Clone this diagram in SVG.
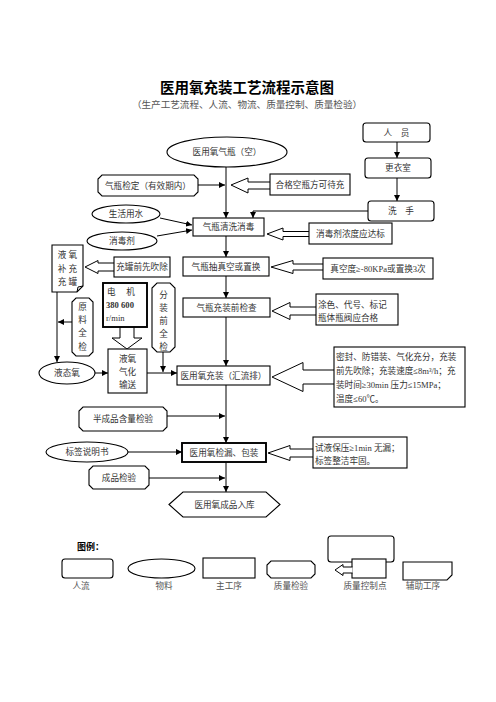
<svg xmlns="http://www.w3.org/2000/svg" width="496" height="702" viewBox="0 0 496 702">
<defs>
<marker id="ah" viewBox="0 0 10 10" refX="10" refY="5" markerWidth="6" markerHeight="6" markerUnits="userSpaceOnUse" orient="auto"><path d="M0,0 L10,5 L0,10 Z" fill="#000"/></marker>
<style>
text{font-family:"Liberation Serif","Noto Sans CJK SC",serif;font-size:8.6px;fill:#333;text-anchor:middle;dominant-baseline:central}
.l{text-anchor:start}
.s{fill:#fff;stroke:#000;stroke-width:1.1}
.b{fill:#fff;stroke:#000;stroke-width:1.9}
.h{fill:#fff;stroke:#000;stroke-width:1}
.c{fill:none;stroke:#000;stroke-width:1;marker-end:url(#ah)}
.ln{fill:none;stroke:#000;stroke-width:1}
.t{font-size:14.5px;font-weight:bold;fill:#000}
.st{font-size:9.6px;fill:#555}
.lg{font-size:8.6px;fill:#555}
</style>
</defs>
<rect width="496" height="702" fill="#fff"/>
<text class="t" x="247" y="88">医用氧充装工艺流程示意图</text>
<text class="st" x="247" y="104">（生产工艺流程、人流、物流、质量控制、质量检验）</text>

<g id="connectors">
<path class="c" d="M226,167 V218"/>
<path class="c" d="M198,185 H225"/>
<path class="c" d="M397,142 V158"/>
<path class="c" d="M397,178 V201"/>
<path class="c" d="M368,211 H253 V218"/>
<path class="c" d="M160,218 L192,225"/>
<path class="c" d="M157,236 L192,230"/>
<path class="c" d="M226,236 V257"/>
<path class="c" d="M226,276 V298"/>
<path class="c" d="M226,317 V366"/>
<path class="c" d="M57,292 V362"/>
<path class="c" d="M72,322 H58"/>
<path class="c" d="M95,373 H108"/>
<path class="c" d="M147,373 H177"/>
<path class="c" d="M163,352 V372"/>
<path class="c" d="M226,385 V443"/>
<path class="c" d="M167,416 H225"/>
<path class="c" d="M128,452 H182"/>
<path class="c" d="M149,478 H225"/>
<path class="c" d="M226,462 V492"/>
<path class="h" d="M270,182 H248 V178 L231,185 L248,193 V189 H270"/>
<path class="h" d="M309,231.5 H283 V228 L267,234 L283,240 V236.5 H309"/>
<path class="h" d="M323,264 H293 V260.5 L271,267 L293,273.5 V270 H323"/>
<path class="h" d="M316,307 H290 V302.5 L272,311 L290,319.5 V315 H316"/>
<path class="h" d="M334,370 H303 V362.5 L272,377 L303,391.5 V384 H334"/>
<path class="h" d="M313,449 H290 V445.5 L268,453 L290,460.5 V457 H313"/>
<path class="h" d="M114,263 H98 V260.5 L85,267 L98,273.5 V271 H114"/>
<path class="h" d="M120,327 V338 H112 L127,349 L142,338 H134 V327"/>
</g>

<g id="n-empty"><ellipse class="s" cx="227" cy="152" rx="60" ry="15"/><text x="227" y="152">医用氧气瓶（空）</text></g>
<g id="n-verify"><path class="s" d="M102,175 H194 L198,179 V192 L194,196 H102 L98,192 V179 Z"/><text x="148" y="185.5">气瓶检定（有效期内）</text></g>
<g id="n-qualified"><rect class="s" x="270" y="174" width="80" height="21"/><text x="310" y="185">合格空瓶方可待充</text></g>
<g id="n-person"><rect class="s" x="363" y="123" width="67" height="19" rx="3"/><text x="396.5" y="132.5">人　员</text></g>
<g id="n-change"><rect class="s" x="365" y="158" width="66" height="20" rx="3"/><text x="398" y="168">更衣室</text></g>
<g id="n-wash"><rect class="s" x="368" y="201" width="66" height="20" rx="3"/><text x="401" y="211">洗　手</text></g>
<g id="n-water"><ellipse class="s" cx="126" cy="214" rx="34" ry="9"/><text x="126" y="214">生活用水</text></g>
<g id="n-disinf"><ellipse class="s" cx="122" cy="241" rx="35" ry="9"/><text x="122" y="241">消毒剂</text></g>
<g id="n-clean"><rect class="s" x="193" y="218" width="71" height="18"/><text x="228.5" y="227">气瓶清洗消毒</text></g>
<g id="n-conc"><rect class="s" x="309" y="223" width="83" height="21"/><text x="350.5" y="233.5">消毒剂浓度应达标</text></g>
<g id="n-vac"><rect class="s" x="183" y="257" width="86" height="19"/><text x="226" y="266.5">气瓶抽真空或置换</text></g>
<g id="n-vacq"><rect class="s" x="323" y="258" width="110" height="21"/><text x="378" y="268.5">真空度≥-80KPa或置换3次</text></g>
<g id="n-precheck"><rect class="s" x="183" y="298" width="87" height="19"/><text x="226.5" y="307.5">气瓶充装前检查</text></g>
<g id="n-color"><rect class="s" x="316" y="294" width="82" height="31"/><text class="l" x="318" y="304.5">涂色、代号、标记</text><text class="l" x="318" y="318">瓶体瓶阀应合格</text></g>
<g id="n-fill"><rect class="s" x="177" y="366" width="93" height="19"/><text x="223.5" y="375.5">医用氧充装（汇流排）</text></g>
<g id="n-fillq"><rect class="s" x="334" y="347" width="131" height="60"/><text class="l" x="336" y="357">密封、防错装、气化充分，充装</text><text class="l" x="336" y="371">前先吹除；充装速度≤8m³/h；充</text><text class="l" x="336" y="385">装时间≥30min 压力≤15MPa；</text><text class="l" x="336" y="399">温度≤60℃。</text></g>
<g id="n-tank"><path class="s" d="M52,245 H83 V286 L77,292 H52 Z"/><path class="ln" d="M77,292 L78,287 L83,286"/><text x="67.5" y="255">液 氧</text><text x="67.5" y="269">补 充</text><text x="67.5" y="282">充 罐</text></g>
<g id="n-purge"><rect class="s" x="114" y="257" width="56" height="20"/><text x="142" y="267">充罐前先吹除</text></g>
<g id="n-raw"><path class="s" d="M76,298 H89 L93,302 V352 L89,356 H76 L72,352 V302 Z"/><text x="82.5" y="307">原</text><text x="82.5" y="320">料</text><text x="82.5" y="333">全</text><text x="82.5" y="347">检</text></g>
<g id="n-motor"><rect class="b" x="103" y="283" width="44" height="44"/><text class="l" x="107" y="292">电　 机</text><text class="l" x="106" y="305" style="font-weight:bold">380 600</text><text class="l" x="106" y="318">r/min</text></g>
<g id="n-vapor"><rect class="s" x="108" y="349" width="39" height="44"/><text x="127.5" y="359">液氧</text><text x="127.5" y="372">气化</text><text x="127.5" y="385">输送</text></g>
<g id="n-subcheck"><path class="s" d="M157,283 H170 L175,288 V347 L170,352 H157 L152,347 V288 Z"/><text x="163.5" y="295">分</text><text x="163.5" y="308">装</text><text x="163.5" y="321">前</text><text x="163.5" y="334">全</text><text x="163.5" y="347">检</text></g>
<g id="n-lox"><ellipse class="s" cx="67" cy="373" rx="28" ry="11"/><text x="67" y="373">液态氧</text></g>
<g id="n-semi"><path class="s" d="M83,407 H163 L167,411 V427 L163,431 H83 L79,427 V411 Z"/><text x="123" y="419">半成品含量检验</text></g>
<g id="n-label"><ellipse class="s" cx="87" cy="452" rx="41" ry="10"/><text x="87" y="452">标签说明书</text></g>
<g id="n-pack"><rect class="b" x="182" y="443" width="84" height="19"/><text x="224" y="452.5">医用氧检漏、包装</text></g>
<g id="n-packq"><rect class="s" x="313" y="437" width="94" height="31"/><text class="l" x="315" y="447.5">试液保压≥1min 无漏；</text><text class="l" x="315" y="461">标签整洁牢固。</text></g>
<g id="n-final"><path class="s" d="M93,466 H145 L149,470 V485 L145,489 H93 L89,485 V470 Z"/><text x="119" y="477.5">成品检验</text></g>
<g id="n-store"><path class="s" d="M169,504.5 L183,492 H266 L280,504.5 L266,517 H183 Z"/><text x="224.5" y="504.5">医用氧成品入库</text></g>

<g id="legend">
<text x="77" y="547" class="l" style="font-weight:bold;fill:#000;font-size:9px">图例：</text>
<rect class="s" x="62" y="559" width="51" height="19" rx="3"/>
<ellipse class="s" cx="161.5" cy="568.5" rx="33.5" ry="9.5"/>
<rect class="s" x="203" y="558" width="52" height="20"/>
<path class="s" d="M271,561 H311 L315,565 V574 L311,578 H271 L267,574 V565 Z"/>
<rect class="s" x="328" y="536" width="66" height="26" rx="3"/>
<rect class="s" x="352" y="559" width="34" height="19"/>
<path class="h" d="M352.5,567 H343 V564.5 L335,570 L343,575.5 V573 H352.5"/>
<path class="s" d="M403,562 H452 V575 L447,580 H403 Z"/>
<text class="lg" x="81" y="586">人流</text>
<text class="lg" x="164" y="586">物料</text>
<text class="lg" x="229" y="586">主工序</text>
<text class="lg" x="291" y="586">质量检验</text>
<text class="lg" x="365" y="586">质量控制点</text>
<text class="lg" x="423" y="586">辅助工序</text>
</g>
</svg>
